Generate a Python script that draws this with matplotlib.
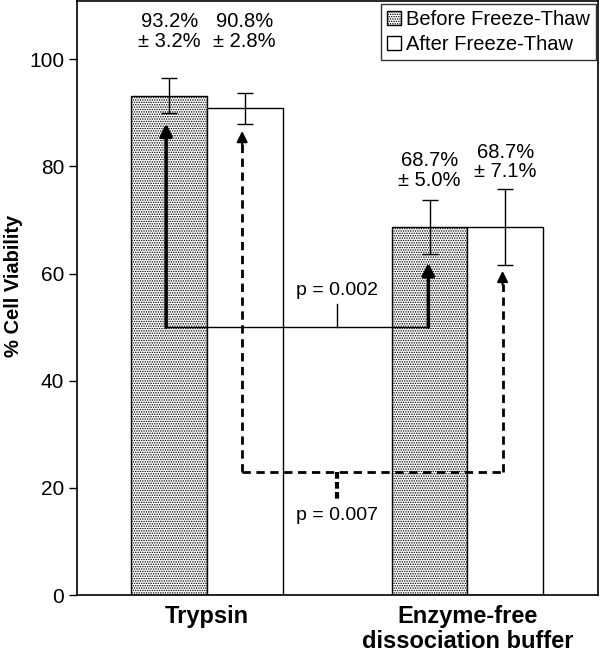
import numpy as np
import matplotlib
matplotlib.use("Agg")
import matplotlib.pyplot as plt
from matplotlib.patches import Patch

plt.rcParams['font.family'] = ['Liberation Sans', 'DejaVu Sans']
plt.rcParams['hatch.linewidth'] = 0.7

# donnees
groups = ["Trypsin", "Enzyme-free\ndissociation buffer"]
series = ["Before Freeze-Thaw", "After Freeze-Thaw"]
means = [[93.2, 68.7], [90.8, 68.7]]
errs = [[3.2, 5.0], [2.8, 7.1]]
# hauteur (bas du texte) des etiquettes
label_y = [[101.6, 75.6], [101.6, 77.2]]

# fleches de comparaison (base, pointes)
p_labels = ["p = 0.002", "p = 0.007"]
bracket_y = [50, 23]
tips_left = [88, 86.6]
tips_right = [62, 60.5]

fig = plt.figure(figsize=(6.0, 6.54), dpi=100)
ax = fig.add_axes([0.128, 0.09, 0.868, 0.908])

x = np.arange(len(groups))
w = 0.29
offs = [-w / 2, w / 2]
hatches = ['.......', '']

for i in range(2):
    ax.bar(x + offs[i], means[i], w, color='white', edgecolor='black',
           linewidth=1.0, hatch=hatches[i], zorder=2)
    ax.errorbar(x + offs[i], means[i], yerr=errs[i], fmt='none', ecolor='black',
                elinewidth=1.0, capsize=6, capthick=1.0, zorder=4)
    for j in range(2):
        ax.text(x[j] + offs[i], label_y[i][j], "%.1f%%\n± %.1f%%" % (means[i][j], errs[i][j]),
                ha='center', va='bottom', fontsize=14.5, linespacing=1.05, zorder=5)

# comparaison "avant" : trait plein
xs = [x[0] + offs[0] - 0.012, x[1] + offs[0] - 0.005]
ax.plot(xs, [bracket_y[0]] * 2, color='black', lw=1.0, zorder=3)
for xx, tip in zip(xs, [tips_left[0], tips_right[0]]):
    ax.annotate('', xy=(xx, tip), xytext=(xx, bracket_y[0]),
                arrowprops=dict(arrowstyle='-|>', lw=2.5, color='black',
                                mutation_scale=18, shrinkA=0, shrinkB=0), zorder=3)
ax.plot([0.5, 0.5], [bracket_y[0], bracket_y[0] + 4.3], color='black', lw=1.0)
ax.text(0.5, bracket_y[0] + 5.3, p_labels[0], ha='center', va='bottom', fontsize=14)

# comparaison "apres" : pointilles
xd = [x[0] + offs[1] - 0.01, x[1] + offs[1] - 0.01]
ax.plot(xd, [bracket_y[1]] * 2, color='black', lw=2.0, ls=(0, (3, 2)), zorder=3)
for xx, tip in zip(xd, [tips_left[1], tips_right[1]]):
    ax.plot([xx, xx], [bracket_y[1], tip - 2.5], color='black', lw=2.0,
            ls=(0, (3, 2)), zorder=3)
    ax.annotate('', xy=(xx, tip), xytext=(xx, tip - 2.6),
                arrowprops=dict(arrowstyle='-|>', lw=1.5, color='black',
                                mutation_scale=16, shrinkA=0, shrinkB=0), zorder=3)
ax.plot([0.5, 0.5], [bracket_y[1], bracket_y[1] - 5.3], color='black', lw=3.0,
        ls=(0, (1.6, 0.8)))
ax.text(0.5, bracket_y[1] - 6.6, p_labels[1], ha='center', va='top', fontsize=14)

ax.set_xlim(-0.5, 1.5)
ax.set_ylim(0, 110.8)
ax.set_yticks([0, 20, 40, 60, 80, 100])
ax.set_xticks(x)
ax.set_xticklabels(groups, fontsize=17, fontweight='bold', linespacing=1.1)
ax.tick_params(axis='x', length=0, pad=7)
ax.tick_params(axis='y', labelsize=15, length=6, width=1.0, direction='out', pad=3)
ax.set_ylabel("% Cell Viability", fontsize=14.5, fontweight='bold')
ax.yaxis.set_label_coords(-0.103, 0.52)
for s in ax.spines.values():
    s.set_linewidth(1.2)

handles = [Patch(facecolor='white', edgecolor='black', hatch='.......', label=series[0]),
           Patch(facecolor='white', edgecolor='black', label=series[1])]
leg = ax.legend(handles=handles, loc='upper right', fontsize=14.5, frameon=True,
                fancybox=False, edgecolor='black', handlelength=0.7, handleheight=0.7,
                handletextpad=0.25, borderpad=0.3, labelspacing=0.3,
                bbox_to_anchor=(0.997, 0.995), borderaxespad=0)
leg.get_frame().set_linewidth(1.0)

fig.savefig("out.png", dpi=100)
